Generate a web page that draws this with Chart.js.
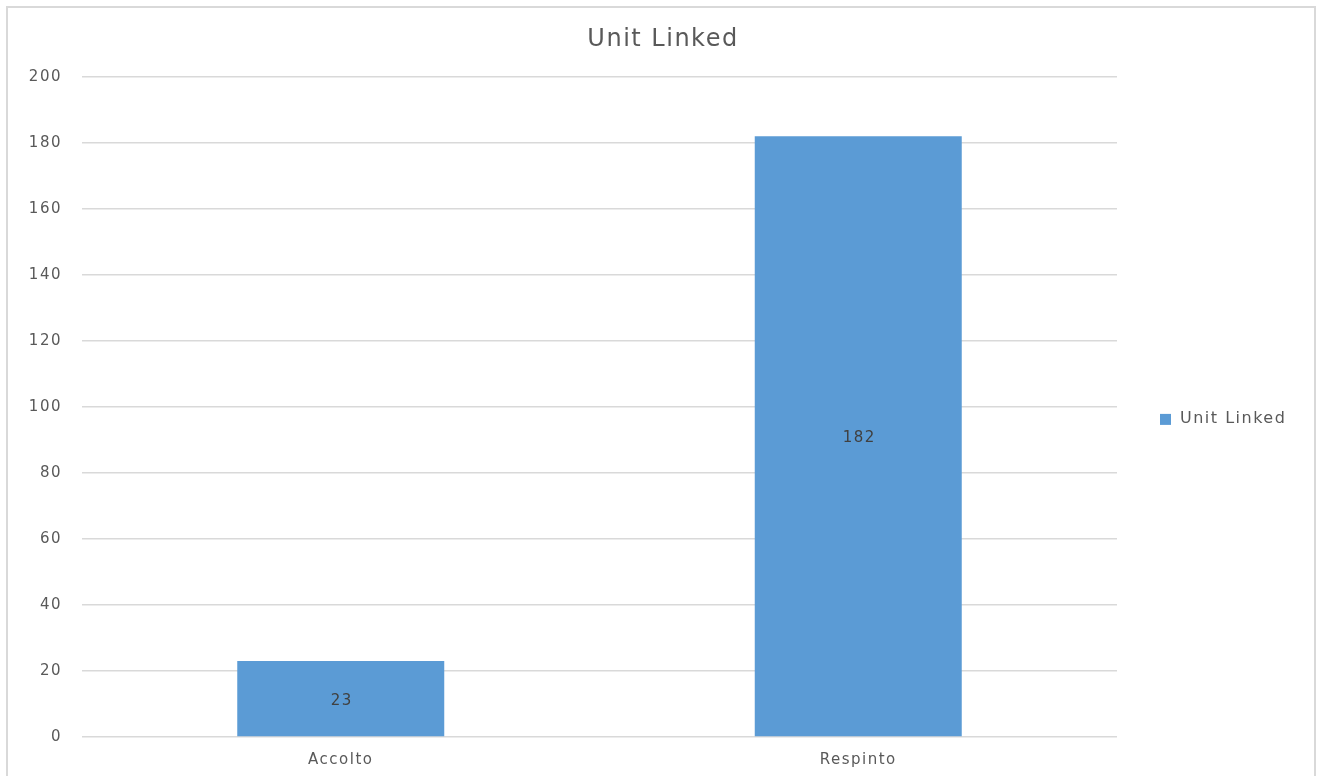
<!DOCTYPE html>
<html>
<head>
<meta charset="utf-8">
<script src="https://cdn.jsdelivr.net/npm/chart.js@4"></script>
<style>
  html, body { margin: 0; padding: 0; background: #ffffff; overflow: hidden; }
  #wrap { position: relative; width: 1318px; height: 776px; }
  #frame { position: absolute; left: 6px; top: 6px; width: 1306px; height: 780px;
           border: 2px solid #d9d9d9; border-bottom: none; pointer-events: none; }
  canvas { position: absolute; left: 0; top: 0; }
</style>
</head>
<body>
<div id="wrap">
  <canvas id="c" width="1318" height="776"></canvas>
  <div id="frame"></div>
</div>
<script>
const chartTitle = "Unit Linked";
const categories = ["Accolto", "Respinto"];
const seriesName = "Unit Linked";
const seriesValues = [23, 182];
const yTicks = [0, 20, 40, 60, 80, 100, 120, 140, 160, 180, 200];

const FONT = "'DejaVu Sans', 'Open Sans', sans-serif";
const TEXT = "#595959";
const BAR = "#5B9BD5";

const spacingPlugin = {
  id: "spacing",
  beforeUpdate(chart) { chart.ctx.letterSpacing = "1.5px"; },
  beforeDraw(chart) { chart.ctx.letterSpacing = "1.5px"; }
};

const valueLabels = {
  id: "valueLabels",
  afterDatasetsDraw(chart) {
    const ctx = chart.ctx;
    ctx.save();
    ctx.font = "15px " + FONT;
    ctx.fillStyle = "#404040";
    ctx.textAlign = "center";
    ctx.textBaseline = "middle";
    chart.getDatasetMeta(0).data.forEach((bar, i) => {
      const p = bar.getProps(["x", "y", "base"], true);
      ctx.fillText(String(chart.data.datasets[0].data[i]), p.x + 1, (p.y + p.base) / 2 + 2);
    });
    ctx.restore();
  }
};

const sideLegend = {
  id: "sideLegend",
  afterDraw(chart) {
    const ctx = chart.ctx;
    const a = chart.chartArea;
    const ds = chart.data.datasets[0];
    const x = a.right + 43;
    const y = (a.top + a.bottom) / 2 + 12;
    ctx.save();
    ctx.fillStyle = ds.backgroundColor;
    ctx.fillRect(x, y - 5, 11, 11);
    ctx.font = "16px " + FONT;
    ctx.fillStyle = TEXT;
    ctx.textAlign = "left";
    ctx.textBaseline = "middle";
    ctx.fillText(ds.label, x + 20, y);
    ctx.restore();
  }
};

new Chart(document.getElementById("c"), {
  type: "bar",
  data: {
    labels: categories,
    datasets: [{
      label: seriesName,
      data: seriesValues,
      backgroundColor: BAR,
      borderWidth: 0,
      categoryPercentage: 0.4,
      barPercentage: 1.0
    }]
  },
  plugins: [spacingPlugin, valueLabels, sideLegend],
  options: {
    responsive: false,
    animation: false,
    devicePixelRatio: 1,
    layout: { padding: { left: 8, right: 0, top: 0, bottom: 0 } },
    plugins: {
      legend: { display: false },
      tooltip: { enabled: false },
      title: {
        display: true,
        text: chartTitle,
        color: TEXT,
        font: { family: FONT, size: 24, weight: "normal" },
        padding: { top: 25, bottom: 23 }
      }
    },
    scales: {
      x: {
        grid: { display: false, drawTicks: false },
        border: { display: false },
        ticks: { color: TEXT, font: { family: FONT, size: 15 }, padding: 14 },
        afterFit(s) { s.height = 39; }
      },
      y: {
        min: 0,
        max: 200,
        afterBuildTicks(s) { s.ticks = yTicks.map(v => ({ value: v })); },
        grid: { color: "#d9d9d9", lineWidth: 1.5, drawTicks: false },
        border: { display: false },
        ticks: { color: TEXT, font: { family: FONT, size: 15 }, padding: 20 },
        afterFit(s) { s.width = 74; }
      },
      yRight: {
        position: "right",
        display: true,
        min: 0,
        max: 200,
        grid: { display: false, drawTicks: false },
        border: { display: false },
        ticks: { display: false },
        afterFit(s) { s.width = 201; }
      }
    }
  }
});
</script>
</body>
</html>
